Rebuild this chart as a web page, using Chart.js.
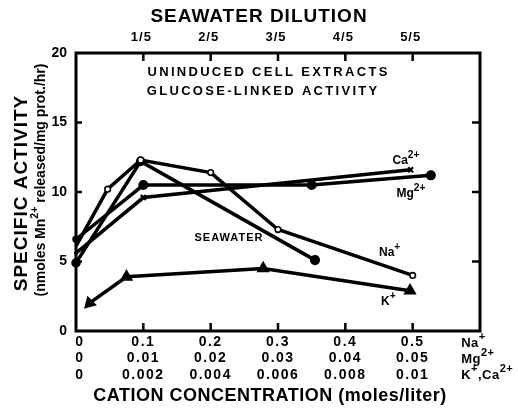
<!DOCTYPE html>
<html>
<head>
<meta charset="utf-8">
<script src="https://cdn.jsdelivr.net/npm/chart.js@4.4.1/dist/chart.umd.min.js"></script>
<style>
  body { margin: 0; background: #fff; }
  #wrap { width: 518px; height: 411px; position: relative; }
</style>
</head>
<body>
<div id="wrap"><canvas id="chart"></canvas></div>
<script>
// Data (x = Na+ scale, moles/liter; y = specific activity)
const naX = [0, 0.047, 0.096, 0.2, 0.3, 0.5];
const naY = [6.1, 10.2, 12.3, 11.4, 7.3, 4.0];
const seawaterX = [0, 0.096, 0.355];
const seawaterY = [4.9, 12.2, 5.1];
const mgX = [0, 0.1, 0.35, 0.527];
const mgY = [6.6, 10.5, 10.5, 11.2];
const caX = [0, 0.1, 0.497];
const caY = [5.6, 9.6, 11.6];
const kX = [0.02, 0.075, 0.278, 0.496];
const kY = [2.0, 3.9, 4.5, 2.9];

// Tick labels
const xTickValues = [0, 0.1, 0.2, 0.3, 0.4, 0.5];
const naTicks = ['0', '0.1', '0.2', '0.3', '0.4', '0.5'];
const mgTicks = ['0', '0.01', '0.02', '0.03', '0.04', '0.05'];
const kcaTicks = ['0', '0.002', '0.004', '0.006', '0.008', '0.01'];
const dilutionTicks = ['', '1/5', '2/5', '3/5', '4/5', '5/5'];
const yTicks = [0, 5, 10, 15, 20];

const FONT = '"Liberation Sans", Arial, sans-serif';

function pts(xs, ys) {
  return xs.map((x, i) => ({ x: x, y: ys[i] }));
}

function setFont(ctx, size, spacing) {
  ctx.font = `bold ${size}px ${FONT}`;
  ctx.letterSpacing = (spacing || 0) + 'px';
}

// parts: [text, isSuperscript]
function partsWidth(ctx, parts, size, spacing, supScale) {
  let w = 0;
  parts.forEach(p => {
    setFont(ctx, p[1] ? size * (supScale || 0.75) : size, spacing);
    w += ctx.measureText(p[0]).width;
  });
  return w;
}

function drawParts(ctx, parts, x, y, size, spacing, supScale) {
  let cx = x;
  ctx.textAlign = 'left';
  ctx.textBaseline = 'middle';
  parts.forEach(p => {
    setFont(ctx, p[1] ? size * (supScale || 0.75) : size, spacing);
    ctx.fillText(p[0], cx, p[1] ? y - size * 0.45 : y);
    cx += ctx.measureText(p[0]).width;
  });
}

function text(ctx, s, x, y, size, align, spacing) {
  setFont(ctx, size, spacing);
  ctx.textAlign = align || 'center';
  ctx.textBaseline = 'middle';
  ctx.fillText(s, x, y);
}

const framePlugin = {
  id: 'frame',
  beforeDatasetsDraw(chart) {
    const { ctx, chartArea: a, scales: { x, y } } = chart;
    ctx.save();
    ctx.strokeStyle = '#000';
    ctx.lineWidth = 3;
    ctx.strokeRect(a.left, a.top, a.right - a.left, a.bottom - a.top);
    ctx.lineWidth = 2.5;
    ctx.beginPath();
    xTickValues.slice(1).forEach(v => {
      const px = x.getPixelForValue(v);
      ctx.moveTo(px, a.bottom); ctx.lineTo(px, a.bottom - 8);
      ctx.moveTo(px, a.top); ctx.lineTo(px, a.top + 8);
    });
    yTicks.slice(1, -1).forEach(v => {
      const py = y.getPixelForValue(v);
      ctx.moveTo(a.left, py); ctx.lineTo(a.left + 6, py);
      ctx.moveTo(a.right, py); ctx.lineTo(a.right - 8, py);
    });
    ctx.stroke();
    ctx.restore();
  },
  afterDatasetsDraw(chart) {
    const { ctx, chartArea: a, scales: { x, y } } = chart;
    ctx.save();
    ctx.fillStyle = '#000';

    // y tick labels
    yTicks.forEach(v => text(ctx, String(v), a.left - 9, y.getPixelForValue(v), 14, 'right'));

    // bottom tick rows and top dilution ticks
    xTickValues.forEach((v, i) => {
      const px = x.getPixelForValue(v) + (i === 0 ? 4 : 0);
      text(ctx, naTicks[i], px, 342, 14, 'center', 1.5);
      text(ctx, mgTicks[i], px, 358, 14, 'center', 1.5);
      text(ctx, kcaTicks[i], px, 375, 14, 'center', 1.5);
      if (dilutionTicks[i]) text(ctx, dilutionTicks[i], px - 2, 37, 13, 'center', 1);
    });
    const rx = x.getPixelForValue(0.572);
    drawParts(ctx, [['Na', false], ['+', true]], rx, 343, 13, 0.5, 0.85);
    drawParts(ctx, [['Mg', false], ['2+', true]], rx, 359, 13, 0.5, 0.85);
    drawParts(ctx, [['K', false], ['+', true], [',', false], ['Ca', false], ['2+', true]], rx, 375, 13, 0.5, 0.85);

    // titles
    text(ctx, 'SEAWATER DILUTION', 259, 17, 19, 'center', 1);
    text(ctx, 'CATION CONCENTRATION (moles/liter)', 270, 396, 18, 'center', 0.5);

    ctx.save();
    ctx.translate(22, 193);
    ctx.rotate(-Math.PI / 2);
    text(ctx, 'SPECIFIC ACTIVITY', 0, 0, 19, 'center', 1);
    ctx.restore();

    const unitParts = [['(nmoles Mn', false], ['2+', true], [' released/mg prot./hr)', false]];
    ctx.save();
    ctx.translate(41, 180);
    ctx.rotate(-Math.PI / 2);
    const uw = partsWidth(ctx, unitParts, 14, 0);
    drawParts(ctx, unitParts, -uw / 2, 0, 14, 0);
    ctx.restore();

    // in-plot annotations
    text(ctx, 'UNINDUCED CELL EXTRACTS', x.getPixelForValue(0.286), y.getPixelForValue(18.6), 13, 'center', 2.3);
    text(ctx, 'GLUCOSE-LINKED ACTIVITY', x.getPixelForValue(0.278), y.getPixelForValue(17.25), 13, 'center', 2.3);
    text(ctx, 'SEAWATER', x.getPixelForValue(0.176), y.getPixelForValue(6.67), 11, 'left', 1);
    drawParts(ctx, [['Ca', false], ['2+', true]], x.getPixelForValue(0.47), y.getPixelForValue(12.25), 12, 0, 0.85);
    drawParts(ctx, [['Mg', false], ['2+', true]], x.getPixelForValue(0.476), y.getPixelForValue(9.85), 12, 0, 0.85);
    drawParts(ctx, [['Na', false], ['+', true]], x.getPixelForValue(0.45), y.getPixelForValue(5.65), 12, 0, 0.85);
    drawParts(ctx, [['K', false], ['+', true]], x.getPixelForValue(0.453), y.getPixelForValue(2.1), 12, 0, 0.85);
    ctx.restore();
  }
};

const line = {
  borderColor: '#000',
  borderWidth: 3.5,
  pointBorderColor: '#000',
  pointBackgroundColor: '#000',
  tension: 0,
  clip: false
};

new Chart(document.getElementById('chart'), {
  type: 'scatter',
  data: {
    datasets: [
      Object.assign({}, line, {
        label: 'Na+', data: pts(naX, naY), showLine: true,
        pointStyle: 'circle', pointRadius: [0, 2.8, 3, 2.8, 2.8, 2.8],
        pointBackgroundColor: '#fff', pointBorderWidth: 1.6
      }),
      Object.assign({}, line, {
        label: 'Seawater', data: pts(seawaterX, seawaterY), showLine: true,
        pointStyle: 'circle', pointRadius: [3, 3, 3.3]
      }),
      Object.assign({}, line, {
        label: 'Mg2+', data: pts(mgX, mgY), showLine: true,
        pointStyle: 'circle', pointRadius: [2, 3.3, 3.3, 3.3]
      }),
      Object.assign({}, line, {
        label: 'Ca2+', data: pts(caX, caY), showLine: true,
        pointStyle: 'crossRot', pointRadius: [2, 3.5, 3.5], pointBorderWidth: 2.2
      }),
      Object.assign({}, line, {
        label: 'K+', data: pts(kX, kY), showLine: true,
        pointStyle: 'triangle', pointRadius: 4.2, pointRotation: [225, 0, 0, 0]
      })
    ]
  },
  options: {
    responsive: true,
    maintainAspectRatio: false,
    animation: false,
    layout: { padding: { left: 76, right: 38, top: 53, bottom: 80 } },
    plugins: { legend: { display: false }, tooltip: { enabled: false } },
    scales: {
      x: { type: 'linear', min: 0, max: 0.6, display: false },
      y: { min: 0, max: 20, display: false }
    }
  },
  plugins: [framePlugin]
});
</script>
</body>
</html>
